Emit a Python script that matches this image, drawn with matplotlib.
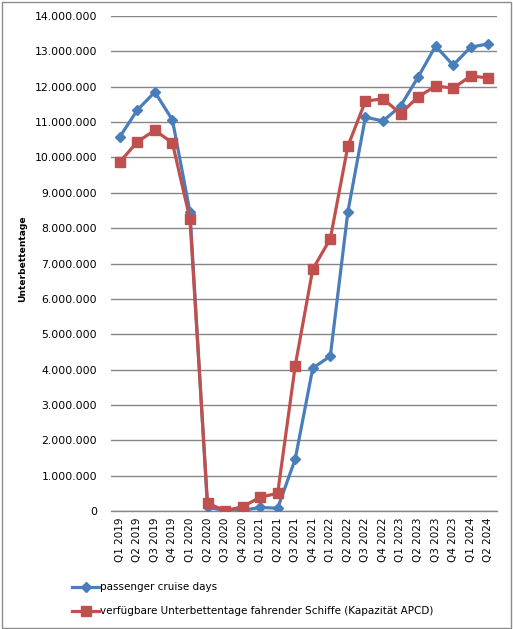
import matplotlib
matplotlib.use("Agg")
import matplotlib.pyplot as plt
from matplotlib.ticker import FuncFormatter, MultipleLocator
from matplotlib.patches import Rectangle

quarters = ["Q1 2019", "Q2 2019", "Q3 2019", "Q4 2019",
            "Q1 2020", "Q2 2020", "Q3 2020", "Q4 2020",
            "Q1 2021", "Q2 2021", "Q3 2021", "Q4 2021",
            "Q1 2022", "Q2 2022", "Q3 2022", "Q4 2022",
            "Q1 2023", "Q2 2023", "Q3 2023", "Q4 2023",
            "Q1 2024", "Q2 2024"]

passenger_cruise_days = [10580000, 11340000, 11850000, 11060000,
                         8460000, 110000, 10000, 20000,
                         100000, 80000, 1470000, 4040000,
                         4380000, 8460000, 11140000, 11030000,
                         11450000, 12270000, 13150000, 12610000,
                         13120000, 13210000]

available_lower_berth_days = [9870000, 10440000, 10770000, 10410000,
                              8260000, 220000, 10000, 120000,
                              390000, 500000, 4110000, 6840000,
                              7700000, 10320000, 11590000, 11660000,
                              11240000, 11710000, 12020000, 11960000,
                              12300000, 12250000]

label_blue = "passenger cruise days"
label_red = "verfügbare Unterbettentage fahrender Schiffe (Kapazität APCD)"
y_label = "Unterbettentage"

W, H = 513, 629
fig = plt.figure(figsize=(W / 100, H / 100), dpi=100)
fig.patch.set_facecolor("white")
fig.patches.append(Rectangle((1.5 / W, 1.5 / H), (W - 3.5) / W, (H - 3) / H,
                             transform=fig.transFigure, fill=False,
                             edgecolor="#8c8c8c", linewidth=1.0))

ax = fig.add_axes([111 / W, 1 - 511 / H, (497 - 111) / W, (511 - 16) / H])
x = list(range(len(quarters)))

ax.plot(x, passenger_cruise_days, color="#4A7EBB", linewidth=2.3,
        marker="D", markersize=5.5, markeredgecolor="#4A7EBB",
        label=label_blue, zorder=3)
ax.plot(x, available_lower_berth_days, color="#C0504D", linewidth=2.3,
        marker="s", markersize=6.5, markeredgecolor="#C0504D",
        label=label_red, zorder=4)

ax.set_xlim(-0.5, len(quarters) - 0.5)
ax.set_ylim(0, 14000000)
ax.yaxis.set_major_locator(MultipleLocator(1000000))
ax.yaxis.set_major_formatter(FuncFormatter(lambda v, p: f"{int(round(v)):,}".replace(",", ".")))
ax.set_xticks(x)
ax.set_xticklabels(quarters, rotation=90, fontsize=7.5)
ax.tick_params(axis="y", labelsize=7.8, length=0, pad=10)
ax.tick_params(axis="x", length=0, pad=5)

ax.grid(axis="y", color="#868686", linewidth=1.0)
ax.set_axisbelow(True)
for s in ["top", "right", "left"]:
    ax.spines[s].set_visible(False)
ax.spines["bottom"].set_color("#868686")
ax.spines["bottom"].set_linewidth(1.0)

ax.set_ylabel(y_label, fontsize=6.6, fontweight="bold")
ax.yaxis.set_label_coords((27 - 111) / 386, 0.51)

fig.legend(loc="upper left", bbox_to_anchor=(68 / W, 1 - 578 / H),
           frameon=False, fontsize=7.5, handlelength=2.6, handletextpad=0.1,
           labelspacing=1.35, borderaxespad=0)

fig.savefig("out.png", dpi=100, facecolor="white")
